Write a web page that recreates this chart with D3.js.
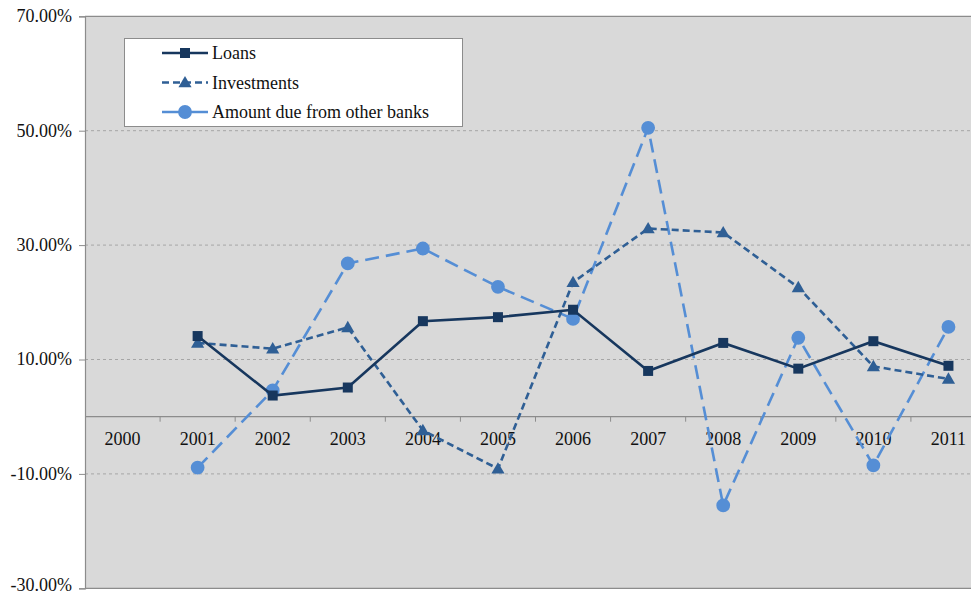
<!DOCTYPE html>
<html><head><meta charset="utf-8">
<script src="https://cdn.jsdelivr.net/npm/d3@7"></script>
<style>
html,body{margin:0;padding:0;background:#fff;}
svg{display:block;}
svg text{font-family:"Liberation Serif","Times New Roman",serif !important;}
</style></head>
<body><svg id="c" width="971" height="595"></svg>
<script>
const years = ["2000","2001","2002","2003","2004","2005","2006","2007","2008","2009","2010","2011"];
const loans = [null,14.1,3.7,5.1,16.7,17.4,18.7,8.0,12.9,8.4,13.2,8.9];
const investments = [null,12.9,11.9,15.6,-2.4,-9.1,23.5,32.9,32.2,22.6,8.8,6.6];
const dueFromBanks = [null,-8.9,4.6,26.8,29.4,22.7,17.1,50.5,-15.5,13.8,-8.5,15.7];
const yTicks = [-30,-10,10,30,50,70];
const seriesNames = ["Loans","Investments","Amount due from other banks"];

const svg = d3.select("#c");
const L = 85, T = 16.3, B = 588.3, W = 901;
const FS = 18;
const x = d3.scaleBand().domain(years).range([L, L + W]);
const y = d3.scaleLinear().domain([-30, 70]).range([B, T]);

svg.append("rect").attr("x", L).attr("y", T).attr("width", W).attr("height", B - T).attr("fill", "#d9d9d9");

// gridlines
svg.append("g").selectAll("line").data(yTicks.filter(d => d !== -30 && d !== 70)).join("line")
  .attr("x1", L).attr("x2", L + W).attr("y1", d => y(d)).attr("y2", d => y(d))
  .attr("stroke", "#a6a6a6").attr("stroke-width", 1).attr("stroke-dasharray", "3,3");

svg.append("line").attr("x1", L).attr("x2", L + W).attr("y1", T).attr("y2", T).attr("stroke", "#8c8c8c").attr("stroke-width", 1.2);
svg.append("line").attr("x1", L).attr("x2", L + W).attr("y1", B).attr("y2", B).attr("stroke", "#8c8c8c").attr("stroke-width", 1.2);

// y axis
const yAxis = d3.axisLeft(y).tickValues(yTicks).tickSize(6).tickFormat(d => d.toFixed(2) + "%");
const gy = svg.append("g").attr("transform", `translate(${L},0)`).call(yAxis);
gy.select(".domain").attr("stroke", "#8c8c8c").attr("stroke-width", 1.2);
gy.selectAll(".tick line").attr("stroke", "#8c8c8c");
gy.selectAll(".tick text").attr("font-size", FS).attr("fill", "#111").attr("x", -13)
  .attr("dy", d => d === -30 ? "0.1em" : "0.3em");

// x axis at zero
const xAxis = d3.axisBottom(x).tickSize(0);
const gx = svg.append("g").attr("transform", `translate(0,${y(0)})`).call(xAxis);
gx.select(".domain").remove();
gx.append("line").attr("x1", L).attr("x2", L + W).attr("stroke", "#8c8c8c").attr("stroke-width", 1.2);
gx.selectAll(".tick text").attr("font-size", FS).attr("fill", "#111").attr("dy", 0).attr("y", 28);
gx.append("g").selectAll("line").data(years.slice(1)).join("line")
  .attr("x1", d => x(d)).attr("x2", d => x(d)).attr("y1", 0).attr("y2", 5)
  .attr("stroke", "#8c8c8c").attr("stroke-width", 1);

const cx = d => x(d) + x.bandwidth() / 2;
const specs = [
  {name: seriesNames[0], data: loans, color: "#17375e", dash: null, marker: "square"},
  {name: seriesNames[1], data: investments, color: "#2f5f95", dash: "7,4", marker: "triangle"},
  {name: seriesNames[2], data: dueFromBanks, color: "#558ed5", dash: "14,7", marker: "circle"}
];
const symbolFor = m => m === "square" ? d3.symbol(d3.symbolSquare, 100) : m === "triangle" ? d3.symbol(d3.symbolTriangle, 75) : d3.symbol(d3.symbolCircle, 150);

[2, 1, 0].forEach(i => {
  const s = specs[i];
  const pts = years.map((yr, j) => ({yr, v: s.data[j]})).filter(p => p.v !== null);
  const line = d3.line().x(p => cx(p.yr)).y(p => y(p.v));
  svg.append("path").datum(pts).attr("d", line).attr("fill", "none")
    .attr("stroke", s.color).attr("stroke-width", 2.6).attr("stroke-dasharray", s.dash);
  svg.append("g").selectAll("path").data(pts).join("path")
    .attr("d", symbolFor(s.marker)).attr("transform", p => `translate(${cx(p.yr)},${y(p.v) + (s.marker === "triangle" ? 1 : 0)})`)
    .attr("fill", s.color);
});

// legend
const lg = svg.append("g");
lg.append("rect").attr("x", 124.5).attr("y", 38.5).attr("width", 338).attr("height", 88).attr("fill", "#fff").attr("stroke", "#8c8c8c").attr("stroke-width", 1);
specs.forEach((s, i) => {
  const ly = 53 + i * 29.5;
  lg.append("line").attr("x1", 162).attr("x2", 208).attr("y1", ly).attr("y2", ly)
    .attr("stroke", s.color).attr("stroke-width", 2.6).attr("stroke-dasharray", s.dash === "14,7" ? null : s.dash);
  lg.append("path").attr("d", symbolFor(s.marker)).attr("transform", `translate(185,${ly + (s.marker === "triangle" ? 1 : 0)})`).attr("fill", s.color);
  lg.append("text").attr("x", 212).attr("y", ly + 6).attr("font-size", FS).attr("fill", "#111").text(s.name);
});
</script></body></html>
